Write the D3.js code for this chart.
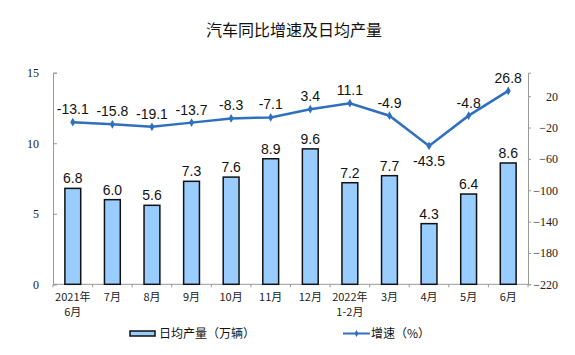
<!DOCTYPE html>
<html><head><meta charset="utf-8">
<script src="https://cdn.jsdelivr.net/npm/d3@7"></script>
<style>body{margin:0;background:#fff}</style>
</head><body><svg id="c" width="575" height="355"></svg>
<script>
const categories = [["2021年","6月"],["7月"],["8月"],["9月"],["10月"],["11月"],["12月"],["2022年","1-2月"],["3月"],["4月"],["5月"],["6月"]];
const dailyOutput = [6.8,6.0,5.6,7.3,7.6,8.9,9.6,7.2,7.7,4.3,6.4,8.6];
const growth = [-13.1,-15.8,-19.1,-13.7,-8.3,-7.1,3.4,11.1,-4.9,-43.5,-4.8,26.8];
const leftTicks = [0,5,10,15];
const rightTicks = [-220,-180,-140,-100,-60,-20,20];

const svg = d3.select("#c");
const L = 53, R = 528, T = 72.7, B = 284.3;
const x = d3.scaleBand().domain(d3.range(categories.length)).range([L, R]).paddingInner(0.6).paddingOuter(0.3);
const xc = i => x(i) + x.bandwidth()/2;
const yL = d3.scaleLinear().domain([0,15]).range([B,T]);
const yR = d3.scaleLinear().domain([-220,50]).range([B,T]);

svg.append("text").attr("x",294).attr("y",36).attr("text-anchor","middle")
  .attr("font-family","'Noto Sans CJK SC'").attr("font-size",16).attr("fill","#111").text("汽车同比增速及日均产量");

// left axis
const gl = svg.append("g").attr("transform",`translate(${L},0)`)
  .call(d3.axisLeft(yL).tickValues(leftTicks).tickSize(-4).tickPadding(14));
gl.select(".domain").attr("stroke","#999");
gl.selectAll(".tick line").attr("stroke","#999");
gl.selectAll("text").attr("font-family","'Liberation Serif'").attr("font-size",12).attr("fill","#222");

// right axis
const gr = svg.append("g").attr("transform",`translate(${R},0)`)
  .call(d3.axisRight(yR).tickValues(rightTicks).tickSize(3).tickPadding(4));
gr.select(".domain").attr("stroke","#999");
gr.selectAll(".tick line").attr("stroke","#999");
gr.selectAll("text").attr("font-family","'Liberation Serif'").attr("font-size",12).attr("fill","#222")
  .attr("text-anchor","end").attr("x",30);

// bottom axis
svg.append("line").attr("x1",L).attr("x2",R).attr("y1",B).attr("y2",B).attr("stroke","#999");
const step = (R-L)/categories.length;
svg.selectAll(".xt").data(d3.range(categories.length+1)).enter().append("line")
  .attr("x1",i=>L+i*step).attr("x2",i=>L+i*step).attr("y1",B).attr("y2",B+3).attr("stroke","#999");
const xl = svg.selectAll(".xl").data(categories).enter().append("text")
  .attr("text-anchor","middle").attr("font-family","'Noto Sans CJK SC'").attr("font-size",11).attr("fill","#222");
xl.each(function(d,i){
  d.forEach((s,j)=>d3.select(this).append("tspan").attr("x",xc(i)).attr("y",301+j*15).text(s));
});

// bars
svg.selectAll(".bar").data(dailyOutput).enter().append("rect")
  .attr("x",(d,i)=>x(i)).attr("width",x.bandwidth())
  .attr("y",d=>yL(d)).attr("height",d=>B-yL(d))
  .attr("fill","#99ccff").attr("stroke","#111").attr("stroke-width",1.5);
svg.selectAll(".bl").data(dailyOutput).enter().append("text")
  .attr("x",(d,i)=>xc(i)).attr("y",d=>yL(d)-5).attr("text-anchor","middle")
  .attr("font-family","'Liberation Sans'").attr("font-size",14).attr("fill","#111")
  .text(d=>d.toFixed(1));

// line
const line = d3.line().x((d,i)=>xc(i)).y(d=>yR(d));
svg.append("path").datum(growth).attr("d",line).attr("fill","none").attr("stroke","#2e6fc0").attr("stroke-width",2.5);
svg.selectAll(".pt").data(growth).enter().append("path")
  .attr("d",d3.symbol(d3.symbolDiamond,22)).attr("transform",(d,i)=>`translate(${xc(i)},${yR(d)})`).attr("fill","#2e6fc0");
svg.selectAll(".ll").data(growth).enter().append("text")
  .attr("x",(d,i)=>xc(i)).attr("y",d=>d<-40?yR(d)+20:yR(d)-8).attr("text-anchor","middle")
  .attr("font-family","'Liberation Sans'").attr("font-size",14).attr("fill","#111")
  .text(d=>d.toFixed(1));

// legend
svg.append("rect").attr("x",130).attr("y",331).attr("width",25).attr("height",5).attr("fill","#99ccff").attr("stroke","#111").attr("stroke-width",1.5);
svg.append("text").attr("x",159).attr("y",338).attr("font-family","'Noto Sans CJK SC'").attr("font-size",12).attr("fill","#111").text("日均产量（万辆）");
svg.append("line").attr("x1",343).attr("x2",370).attr("y1",333.5).attr("y2",333.5).attr("stroke","#2e6fc0").attr("stroke-width",2);
svg.append("path").attr("d",d3.symbol(d3.symbolDiamond,14)).attr("transform","translate(356.5,333.5)").attr("fill","#2e6fc0");
svg.append("text").attr("x",371).attr("y",338).attr("font-family","'Noto Sans CJK SC'").attr("font-size",12).attr("fill","#111").text("增速（%）");
</script></body></html>
